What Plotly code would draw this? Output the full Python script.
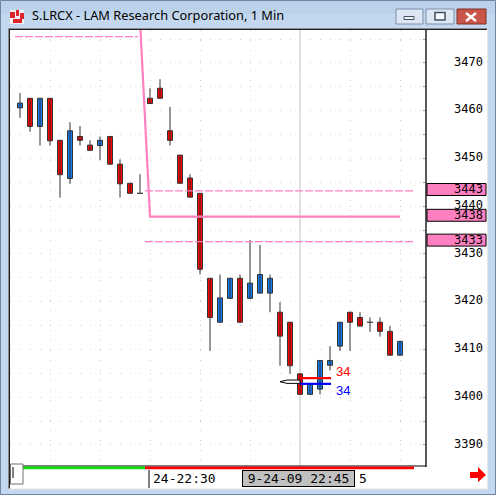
import plotly.graph_objects as go

# ---- chart data ----
candle_idx = list(range(39))
open_ = [3460.6, 3462.6, 3456.7, 3462.6, 3453.8, 3445.8, 3454.6, 3452.8, 3452.7, 3454.6,
         3448.8, 3444.8, 3442.7, 3462.6, 3464.7, 3455.8, 3450.7, 3445.9, 3442.7, 3424.9,
         3415.7, 3420.7, 3424.9, 3420.7, 3421.8, 3421.8, 3417.8, 3415.7, 3404.9, 3400.6,
         3401.7, 3406.7, 3410.7, 3417.8, 3416.7, 3415.7, 3415.7, 3413.8, 3408.8]
high = [3463.7, 3462.6, 3462.6, 3462.6, 3453.8, 3457.6, 3456.8, 3453.8, 3454.6, 3454.6,
        3449.8, 3444.8, 3446.7, 3464.7, 3466.6, 3460.8, 3450.7, 3446.7, 3442.7, 3424.9,
        3425.7, 3424.9, 3425.7, 3432.9, 3431.9, 3425.7, 3419.9, 3415.7, 3404.9, 3402.8,
        3407.7, 3410.7, 3415.7, 3417.8, 3417.8, 3416.7, 3416.7, 3414.9, 3411.7]
low = [3458.5, 3455.6, 3452.7, 3452.7, 3441.8, 3444.7, 3452.7, 3451.7, 3449.7, 3448.8,
       3441.8, 3442.7, 3442.7, 3461.5, 3462.6, 3452.7, 3444.8, 3441.9, 3425.7, 3409.7,
       3415.7, 3420.7, 3415.7, 3420.7, 3421.8, 3417.8, 3406.6, 3404.9, 3400.6, 3400.6,
       3400.6, 3405.6, 3409.7, 3409.7, 3414.9, 3413.7, 3412.7, 3408.8, 3408.8]
close = [3461.6, 3456.7, 3462.6, 3453.7, 3446.6, 3455.8, 3453.8, 3451.7, 3453.8, 3448.8,
         3444.7, 3442.7, 3442.7, 3461.5, 3462.6, 3453.8, 3444.8, 3441.9, 3426.8, 3416.7,
         3420.8, 3424.9, 3415.7, 3423.9, 3425.7, 3424.9, 3412.8, 3406.6, 3400.6, 3402.8,
         3407.7, 3407.7, 3415.7, 3415.7, 3414.9, 3415.7, 3413.8, 3408.8, 3411.7]

price_ticks = [3390, 3400, 3410, 3420, 3430, 3440, 3450, 3460, 3470]
level_values = [3443.2, 3437.8, 3432.6]
level_labels = ["3443", "3438", "3433"]

# trailing stop line (pink)
stop_old_x = [-0.5, 11.8]
stop_old_y = [3475.5, 3475.5]
stop_x = [12.05, 13.0, 38.0]
stop_y = [3476.9, 3437.8, 3437.8]
dash_x = [12.5, 39.3]

# order markers ("34")
cross_idx = 28
order_x = [28, 31.1]
order_red = 3404.0
order_blue = 3402.8
order_text = "34"
cursor_x = [28, 26.7, 26.0, 26.7, 28, 28]
cursor_y = [3403.6, 3403.6, 3403.25, 3402.9, 3402.9, 3403.6]

title = "S.LRCX - LAM Research Corporation, 1 Min"
x_label = "24-22:30"
x_label_idx = 13.1
cross_label = "9-24-09 22:45"

# ---- page geometry ----
W, H = 496, 495


def px(x):
    return x / W


def py(y):
    return 1 - y / H


RED = "#ff0000"
BLUE = "#1478ee"
PINK = "#ff80c0"
EDGE = "#333333"
MONO = "DejaVu Sans Mono"
DASH = "8px,2px"

fig = go.Figure()

# wicks
wx, wy = [], []
for i, h, l in zip(candle_idx, high, low):
    if h > l:
        wx += [i, i, None]
        wy += [l, h, None]
fig.add_trace(go.Scatter(x=wx, y=wy, mode="lines",
                         line=dict(color=EDGE, width=1), hoverinfo="skip"))

# bodies
bx, bbase, bh, bcol = [], [], [], []
dx, dy = [], []
for i, o, c in zip(candle_idx, open_, close):
    if o == c:
        dx += [i - 0.3, i + 0.3, None]
        dy += [o, o, None]
    else:
        bx.append(i)
        bbase.append(min(o, c))
        bh.append(abs(c - o))
        bcol.append(BLUE if c > o else RED)
fig.add_trace(go.Bar(x=bx, y=bh, base=bbase, width=0.5,
                     marker=dict(color=bcol, line=dict(color=EDGE, width=1)),
                     hoverinfo="skip"))
fig.add_trace(go.Scatter(x=dx, y=dy, mode="lines",
                         line=dict(color=EDGE, width=1.2), hoverinfo="skip"))

# pink lines
fig.add_trace(go.Scatter(x=stop_old_x, y=stop_old_y, mode="lines",
                         line=dict(color=PINK, width=1.3, dash=DASH), hoverinfo="skip"))
fig.add_trace(go.Scatter(x=stop_x, y=stop_y, mode="lines",
                         line=dict(color=PINK, width=2.2), hoverinfo="skip"))
for lv in (level_values[0], level_values[2]):
    fig.add_trace(go.Scatter(x=dash_x, y=[lv, lv], mode="lines",
                             line=dict(color=PINK, width=1.3, dash=DASH),
                             hoverinfo="skip"))

# order markers
fig.add_trace(go.Scatter(x=cursor_x, y=cursor_y, mode="lines", fill="toself",
                         fillcolor="white", line=dict(color="black", width=1),
                         hoverinfo="skip"))
fig.add_trace(go.Scatter(x=order_x, y=[order_red] * 2, mode="lines",
                         line=dict(color="#ff0000", width=2.2), hoverinfo="skip"))
fig.add_trace(go.Scatter(x=order_x, y=[order_blue] * 2, mode="lines",
                         line=dict(color="#0000ff", width=2.2), hoverinfo="skip"))

shapes = []
ann = []

# window chrome
shapes.append(dict(type="rect", xref="paper", yref="paper", x0=0, x1=1, y0=py(28), y1=1,
                   fillcolor="#c3d7ee", line=dict(width=0), layer="below"))
shapes.append(dict(type="rect", xref="paper", yref="paper", x0=0, x1=1, y0=py(14), y1=1,
                   fillcolor="#bcd2ea", line=dict(width=0), layer="below"))
shapes.append(dict(type="rect", xref="paper", yref="paper", x0=px(8), x1=px(487),
                   y0=py(489), y1=py(28), fillcolor="white", line=dict(width=0), layer="below"))
shapes.append(dict(type="line", xref="paper", yref="paper", x0=px(8), x1=px(487),
                   y0=py(28.5), y1=py(28.5), line=dict(color="#8c8c8c", width=1)))
shapes.append(dict(type="line", xref="paper", yref="paper", x0=px(9), x1=px(487),
                   y0=py(29.5), y1=py(29.5), line=dict(color="#202020", width=1)))
shapes.append(dict(type="line", xref="paper", yref="paper", x0=px(8.5), x1=px(8.5),
                   y0=py(489), y1=py(28), line=dict(color="#8c8c8c", width=1)))
shapes.append(dict(type="line", xref="paper", yref="paper", x0=px(9.5), x1=px(9.5),
                   y0=py(489), y1=py(29), line=dict(color="#202020", width=1)))
shapes.append(dict(type="line", xref="paper", yref="paper", x0=px(8), x1=px(488),
                   y0=py(489), y1=py(489), line=dict(color="#e6e6e6", width=1)))
shapes.append(dict(type="line", xref="paper", yref="paper", x0=px(487.5), x1=px(487.5),
                   y0=py(489), y1=py(28), line=dict(color="#e6e6e6", width=1)))
shapes.append(dict(type="rect", xref="paper", yref="paper", x0=px(0.5), x1=px(495.5),
                   y0=py(494.5), y1=py(0.5), line=dict(color="#6f86a6", width=1)))

# title bar buttons
for x0, x1, fill, edge in [(396, 423, "#dde7f3", "#7d8fab"), (426, 454, "#dde7f3", "#7d8fab"),
                           (457, 486, "#c95548", "#7e3028")]:
    shapes.append(dict(type="rect", xref="paper", yref="paper", x0=px(x0), x1=px(x1),
                       y0=py(24), y1=py(9), fillcolor=fill, line=dict(color=edge, width=1)))
shapes.append(dict(type="rect", xref="paper", yref="paper", x0=px(404), x1=px(414),
                   y0=py(19.5), y1=py(16.5), fillcolor="#f4f7fb", line=dict(color="#44505e", width=1)))
shapes.append(dict(type="rect", xref="paper", yref="paper", x0=px(435), x1=px(445),
                   y0=py(20), y1=py(12.5), fillcolor="#f4f7fb", line=dict(color="#44505e", width=1.5)))
for a, b in [((466, 13), (476, 21)), ((466, 21), (476, 13))]:
    shapes.append(dict(type="line", xref="paper", yref="paper", x0=px(a[0]), x1=px(b[0]),
                       y0=py(a[1]), y1=py(b[1]), line=dict(color="white", width=2.5)))
# icon
shapes.append(dict(type="rect", xref="paper", yref="paper", x0=px(10), x1=px(24),
                   y0=py(24), y1=py(10), fillcolor="#f2f2f2", line=dict(width=0)))
for x0, y0, x1, y1 in [(10, 12, 15, 18), (16, 10, 19, 16), (20, 13, 24, 19), (13, 19, 22, 23)]:
    shapes.append(dict(type="rect", xref="paper", yref="paper", x0=px(x0), x1=px(x1),
                       y0=py(y1), y1=py(y0), fillcolor="#e0242c", line=dict(width=0)))

# plot frame, session bar, scroll box
shapes.append(dict(type="line", xref="paper", yref="paper", x0=px(426), x1=px(426),
                   y0=py(467), y1=py(30), line=dict(color="black", width=1.3)))
shapes.append(dict(type="line", xref="paper", yref="paper", x0=px(23), x1=px(426),
                   y0=py(466), y1=py(466), line=dict(color="black", width=1.2)))
shapes.append(dict(type="rect", xref="paper", yref="paper", x0=px(23), x1=px(145),
                   y0=py(469.3), y1=py(466.6), fillcolor="#10e010", line=dict(width=0)))
shapes.append(dict(type="rect", xref="paper", yref="paper", x0=px(145), x1=px(414),
                   y0=py(469.3), y1=py(466.6), fillcolor="#ff0000", line=dict(width=0)))
shapes.append(dict(type="rect", xref="paper", yref="paper", x0=px(10.5), x1=px(23),
                   y0=py(484), y1=py(464), fillcolor="white", line=dict(color="#707070", width=1)))
shapes.append(dict(type="line", xref="paper", yref="paper", x0=px(13), x1=px(13),
                   y0=py(478), y1=py(467), line=dict(color="black", width=1)))
shapes.append(dict(type="line", xref="x", yref="paper", x0=x_label_idx - 0.2, x1=x_label_idx - 0.2,
                   y0=py(488), y1=py(470), line=dict(color="black", width=1)))
# red arrow
shapes.append(dict(type="path", xref="paper", yref="paper",
                   path="M %f,%f L %f,%f L %f,%f L %f,%f L %f,%f L %f,%f L %f,%f Z" % (
                       px(470), py(472), px(478), py(472), px(478), py(467), px(486), py(475),
                       px(478), py(482), px(478), py(478), px(470), py(478)),
                   fillcolor="#ff0000", line=dict(width=0)))

# crosshair
shapes.append(dict(type="line", xref="x", yref="paper", x0=cross_idx, x1=cross_idx,
                   y0=py(466), y1=py(30), line=dict(color="#c4c4c4", width=1), layer="below"))

# level boxes on the price scale
for lv, lab in zip(level_values, level_labels):
    shapes.append(dict(type="rect", xref="paper", yref="y", x0=px(427), x1=px(486),
                       y0=lv + 0.3 - 1.25, y1=lv + 0.3 + 1.25,
                       fillcolor="#ff80c0", line=dict(color="black", width=1)))
    ann.append(dict(xref="paper", yref="y", x=px(485), y=lv + 0.3, text=lab,
                    xanchor="right", yanchor="middle", showarrow=False,
                    font=dict(family=MONO, size=12, color="black")))

for t in price_ticks:
    ann.append(dict(xref="paper", yref="y", x=px(485), y=t + 0.3, text=str(t),
                    xanchor="right", yanchor="middle", showarrow=False,
                    font=dict(family=MONO, size=12, color="black")))

# title
ann.append(dict(xref="paper", yref="paper", x=px(30), y=py(15.5), text=title,
                xanchor="left", yanchor="middle", showarrow=False,
                font=dict(family="Noto Sans", size=12.8, color="black")))

# x labels
ann.append(dict(xref="x", yref="paper", x=x_label_idx, y=py(478.5), text=x_label,
                xanchor="left", yanchor="middle", showarrow=False,
                font=dict(family=MONO, size=13, color="black")))
ann.append(dict(xref="paper", yref="paper", x=px(357), y=py(478.5), text="5",
                xanchor="left", yanchor="middle", showarrow=False,
                font=dict(family=MONO, size=13, color="black")))
ann.append(dict(xref="x", yref="paper", x=cross_idx - 0.15, y=py(478.5), text=cross_label,
                xanchor="center", yanchor="middle", showarrow=False,
                width=111, height=15, borderpad=0, bgcolor="#c0c0c0",
                bordercolor="black", borderwidth=1,
                font=dict(family=MONO, size=13, color="black")))

# order labels
ann.append(dict(xref="x", yref="y", x=order_x[1] + 0.3, y=order_red + 1.3, text=order_text,
                xanchor="left", yanchor="middle", showarrow=False,
                font=dict(family="Liberation Sans", size=13, color="#ff0000")))
ann.append(dict(xref="x", yref="y", x=order_x[1] + 0.3, y=order_blue - 1.3, text=order_text,
                xanchor="left", yanchor="middle", showarrow=False,
                font=dict(family="Liberation Sans", size=13, color="#0000ff")))

fig.update_layout(
    width=W, height=H, autosize=False,
    margin=dict(l=0, r=0, t=0, b=0, pad=0),
    paper_bgcolor="#c3d7ee",
    plot_bgcolor="white",
    showlegend=False,
    hovermode=False,
    shapes=shapes,
    annotations=ann,
    xaxis=dict(domain=[px(10), px(426)], range=[-1, 40.6], showticklabels=False,
               tick0=3, dtick=5, showgrid=True, gridcolor="#cfcfcf", gridwidth=1,
               griddash="1px,9px", zeroline=False, showline=False, fixedrange=True),
    yaxis=dict(domain=[py(466), py(30)], range=[3385.6, 3476.9], side="right",
               showticklabels=False, tick0=3385, dtick=5, ticks="inside", ticklen=3,
               tickcolor="#a8a8a8", showgrid=True, gridcolor="#cfcfcf", gridwidth=1,
               griddash="1px,9px", zeroline=False, showline=False, fixedrange=True),
)

fig.write_html("out.html", config={"displayModeBar": False},
               post_script="document.body.style.margin='0';document.body.style.overflow='hidden';")
